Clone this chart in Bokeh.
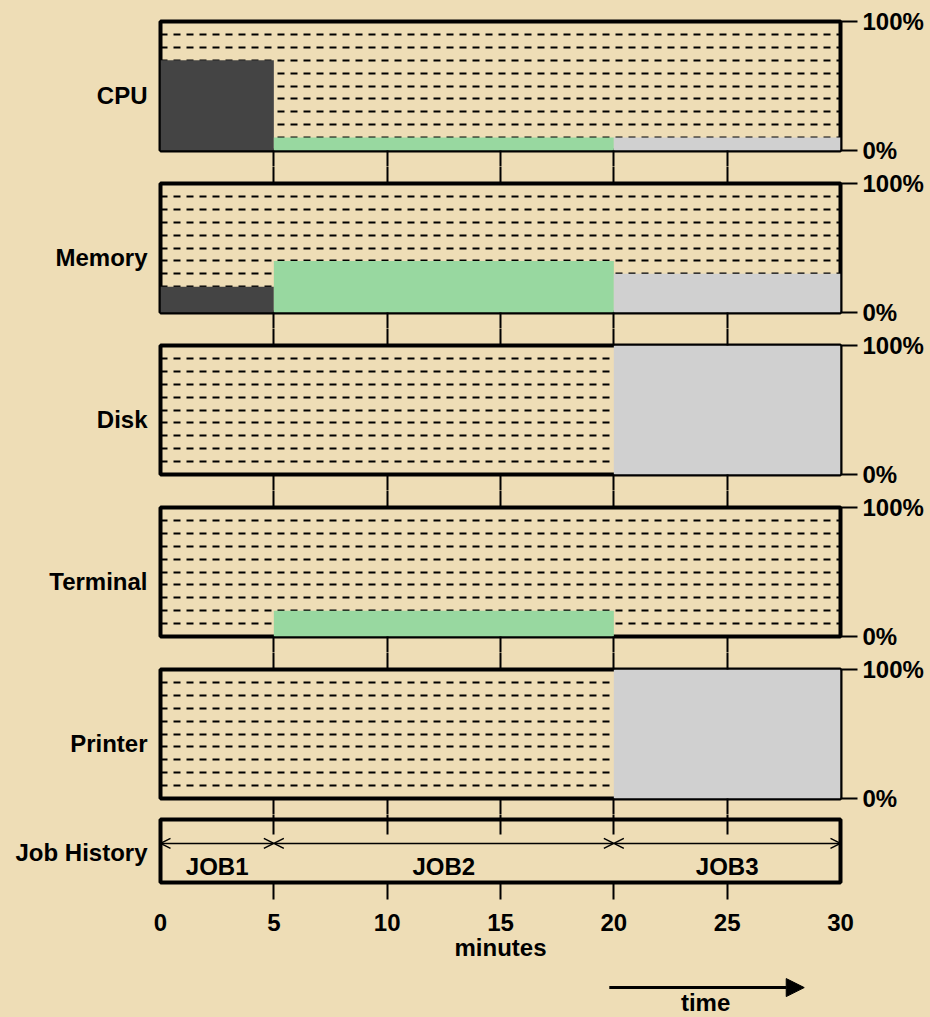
from bokeh.plotting import figure
from bokeh.layouts import column
from bokeh.models import (ColumnDataSource, FixedTicker, LinearAxis, Range1d, Grid,
                          Arrow, OpenHead, NormalHead, GlobalInlineStyleSheet,
                          CustomLabelingPolicy)
from bokeh.embed import file_html
from bokeh.resources import INLINE
from bokeh.core.properties import value

# ---------------- data ----------------
resources = ["CPU", "Memory", "Disk", "Terminal", "Printer"]
jobs = ["JOB1", "JOB2", "JOB3"]
job_start = [0, 5, 20]
job_end = [5, 20, 30]
job_colors = ["#444444", "#98D8A0", "#D0D0D0"]
cpu_use = [70, 10, 10]
memory_use = [20, 40, 30]
disk_use = [0, 0, 100]
terminal_use = [0, 20, 0]
printer_use = [0, 0, 100]
usage = [cpu_use, memory_use, disk_use, terminal_use, printer_use]
pct_ticks = [0, 100]
pct_labels = ["0%", "100%"]
grid_ticks = [10, 20, 30, 40, 50, 60, 70, 80, 90]
minute_ticks = [0, 5, 10, 15, 20, 25, 30]
inner_ticks = [5, 10, 15, 20, 25]
x_label = "minutes"
time_label = "time"

# ---------------- style ----------------
BG = "#EEDDB6"
FONT = "Liberation Sans"
FS = "24px"
L, R, FW, FH = 160, 90, 680, 129
GAP_BOT, GAP_TOP = 16, 17

x_range = Range1d(0, 30)
no_labels = CustomLabelingPolicy(code="for (const i of indices) { indices.unset(i) }\nreturn indices")


def base(frame_h, top, bottom, y_range):
    p = figure(frame_width=FW, frame_height=frame_h, x_range=x_range, y_range=y_range,
               min_border_left=L, min_border_right=R, min_border_top=top,
               min_border_bottom=bottom, x_axis_location=None, y_axis_location=None,
               toolbar_location=None, output_backend="svg")
    p.grid.visible = False
    p.background_fill_color = BG
    p.border_fill_color = BG
    p.outline_line_color = "black"
    p.outline_line_width = 4
    return p


def gap_axis(ticks, out, inner=0):
    return LinearAxis(ticker=FixedTicker(ticks=ticks), axis_line_color=None,
                      major_tick_out=out, major_tick_in=inner, major_tick_line_width=2,
                      major_tick_line_color="black", minor_tick_line_color=None,
                      major_label_text_font_size="0px", major_label_standoff=0,
                      major_label_policy=no_labels)


def name_axis(name, pos):
    return LinearAxis(ticker=FixedTicker(ticks=[pos]), major_label_overrides={pos: name},
                      axis_line_color=None, major_tick_out=0, major_tick_in=0,
                      major_tick_line_color=None, minor_tick_line_color=None,
                      major_label_standoff=13, major_label_text_font=FONT,
                      major_label_text_font_style="bold", major_label_text_font_size=FS,
                      major_label_text_color="black")


plots = []
for i, (name, vals) in enumerate(zip(resources, usage)):
    top = 21 if i == 0 else GAP_TOP
    p = base(FH, top, GAP_BOT, Range1d(0, 100))
    p.add_layout(Grid(dimension=1, ticker=FixedTicker(ticks=grid_ticks),
                      grid_line_color="black", grid_line_dash="7 6", grid_line_width=2))
    src = ColumnDataSource(dict(left=job_start, right=job_end, top=vals, color=job_colors))
    p.quad(left="left", right="right", bottom=0, top="top", fill_color="color",
           line_color=None, source=src)
    p.add_layout(name_axis(name, 43), "left")
    ra = LinearAxis(ticker=FixedTicker(ticks=pct_ticks),
                    major_label_overrides=dict(zip(pct_ticks, pct_labels)),
                    axis_line_color=None, major_tick_out=17, major_tick_in=0,
                    major_tick_line_width=2, minor_tick_line_color=None,
                    major_label_standoff=5, major_label_text_font=FONT,
                    major_label_text_font_style="bold", major_label_text_font_size=FS,
                    major_label_text_color="black")
    p.add_layout(ra, "right")
    if i > 0:
        p.add_layout(gap_axis(inner_ticks, GAP_TOP), "above")
    p.add_layout(gap_axis(inner_ticks, GAP_BOT), "below")
    plots.append(p)

# ---------------- job history ----------------
jp = base(63, 5, 84, Range1d(0, 1))
jp.add_layout(name_axis("Job History", 0.47), "left")
jp.add_layout(gap_axis(inner_ticks, 5, 15), "above")
jp.add_layout(gap_axis(inner_ticks, 17), "below")
bx = LinearAxis(ticker=FixedTicker(ticks=minute_ticks), axis_line_color=None,
                major_tick_out=0, major_tick_in=0, major_tick_line_color=None,
                minor_tick_line_color=None, major_label_standoff=14,
                major_label_text_font=FONT, major_label_text_font_style="bold",
                major_label_text_font_size=FS, major_label_text_color="black",
                axis_label=x_label, axis_label_standoff=0, axis_label_text_font=FONT,
                axis_label_text_font_style="bold", axis_label_text_font_size=FS,
                axis_label_text_color="black")
jp.add_layout(bx, "below")
job_src = ColumnDataSource(dict(x0=job_start, x1=job_end, y=[0.62] * len(jobs),
                                mid=[(s + e) / 2 for s, e in zip(job_start, job_end)],
                                ty=[0.26] * len(jobs), name=jobs))
jp.add_layout(Arrow(x_start="x0", y_start="y", x_end="x1", y_end="y", source=job_src,
                    start=OpenHead(size=10, line_width=1.5, line_color="black"),
                    end=OpenHead(size=10, line_width=1.5, line_color="black"),
                    line_width=1.5, line_color="black"))
jp.text(x="mid", y="ty", text="name", source=job_src, text_align="center",
        text_baseline="middle", text_font=value(FONT), text_font_style="bold",
        text_font_size=FS, text_color="black")
plots.append(jp)

# ---------------- time arrow ----------------
tp = base(49, 0, 0, Range1d(0, 1))
tp.outline_line_color = None
tp.add_layout(Arrow(x_start=19.8, y_start=0.57, x_end=28.4, y_end=0.57, line_width=3,
                    line_color="black",
                    end=NormalHead(size=18, fill_color="black", line_color="black")))
tp.text(x=[24.05], y=[0.27], text=[time_label], text_align="center", text_baseline="middle",
        text_font=value(FONT), text_font_style="bold", text_font_size=FS, text_color="black")
plots.append(tp)

layout = column(*plots, spacing=0,
                stylesheets=[GlobalInlineStyleSheet(css="html, body { background-color: %s; }" % BG)])

open("out.html", "w").write(file_html(layout, INLINE))
